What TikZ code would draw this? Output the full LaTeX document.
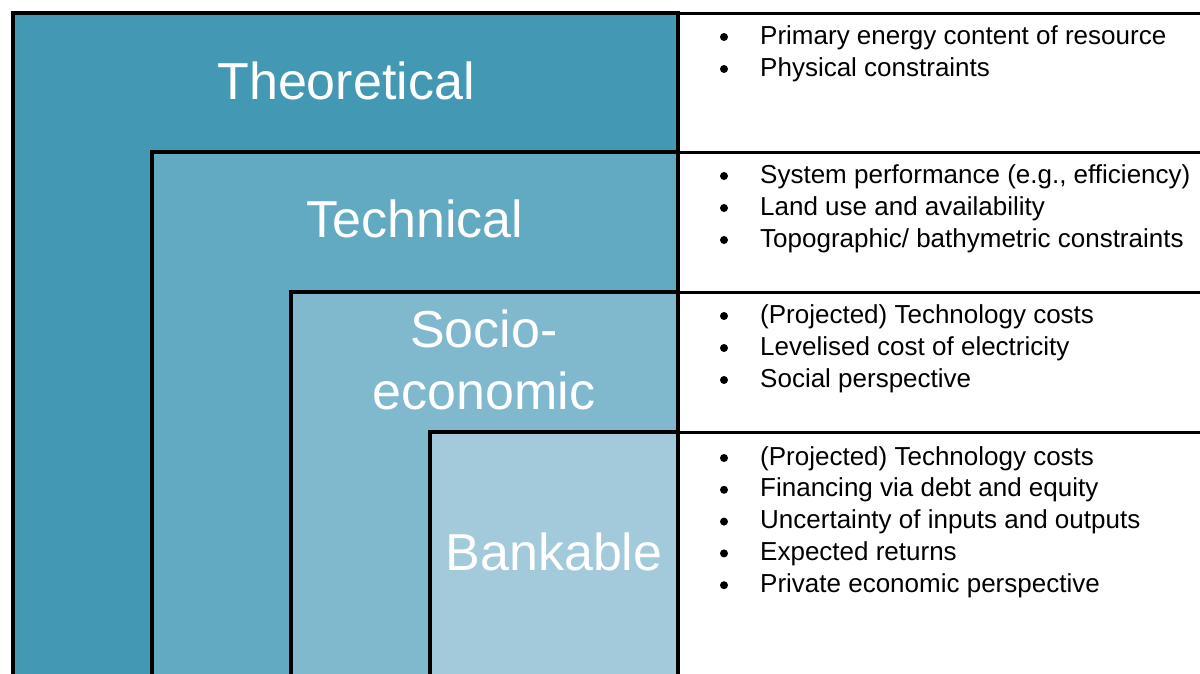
\documentclass[tikz,border=0pt]{standalone}
\usepackage{fontspec}
\setmainfont{Liberation Sans}
\usetikzlibrary{positioning}
\definecolor{theoCol}{HTML}{4399B3}
\definecolor{techCol}{HTML}{61AAC2}
\definecolor{socioCol}{HTML}{80B8CD}
\definecolor{bankCol}{HTML}{A2CADB}
\tikzset{
  Stufe/.style={fill=#1,draw=black,line width=4pt}, % nested boxes
  Trenner/.style={draw=black,line width=3pt},       % lines on the right
  Titel/.style={white,anchor=base,font=\fontsize{52}{62}\selectfont},
  Punkt/.style={circle,fill=black,inner sep=0pt,minimum size=8pt},
  Eintrag/.style={anchor=base west,inner sep=0pt,font=\fontsize{26}{31}\selectfont}
}
\begin{document}
\begin{tikzpicture}[x=1pt,y=-1pt]
\useasboundingbox (0,0) rectangle (1200,673);
\clip (0,0) rectangle (1200,673);

% nested boxes
\path[Stufe=theoCol]  (13,13)   rectangle (678,700);
\path[Stufe=techCol]  (152,152) rectangle (678,700);
\path[Stufe=socioCol] (291,292) rectangle (678,700);
\path[Stufe=bankCol]  (430,432) rectangle (678,700);

% separators
\coordinate (r0) at (678,13);  \coordinate (e0) at (1200,13);
\coordinate (r1) at (678,152); \coordinate (e1) at (1200,152);
\coordinate (r2) at (678,292); \coordinate (e2) at (1200,292);
\coordinate (r3) at (678,432); \coordinate (e3) at (1200,432);
\draw[Trenner] (r0) -- (e0);
\draw[Trenner] (r1) -- (e1);
\draw[Trenner] (r2) -- (e2);
\draw[Trenner] (r3) -- (e3);

% titles
\node[Titel] (theo)   at (346,99)  {Theoretical};
\node[Titel] (tech)   at (415,237) {Technical};
\node[Titel] (socioA) at (484,347) {Socio-};
\node[Titel] (socioB) at (484,409) {economic};
\node[Titel] (bank)   at (554,570) {Bankable};

% lists
\foreach \txt [count=\i] in {Primary energy content of resource, Physical constraints}{
  \node[Punkt]   (pa\i) at (724,{37+32*(\i-1)}) {};
  \node[Eintrag] (ta\i) at (760,{44+32*(\i-1)}) {\txt};
}
\foreach \txt [count=\i] in {{System performance (e.g., efficiency)}, Land use and availability, Topographic/ bathymetric constraints}{
  \node[Punkt]   (pb\i) at (724,{176+32*(\i-1)}) {};
  \node[Eintrag] (tb\i) at (760,{183+32*(\i-1)}) {\txt};
}
\foreach \txt [count=\i] in {(Projected) Technology costs, Levelised cost of electricity, Social perspective}{
  \node[Punkt]   (pc\i) at (724,{316+32*(\i-1)}) {};
  \node[Eintrag] (tc\i) at (760,{323+32*(\i-1)}) {\txt};
}
\foreach \txt [count=\i] in {(Projected) Technology costs, Financing via debt and equity, Uncertainty of inputs and outputs, Expected returns, Private economic perspective}{
  \node[Punkt]   (pd\i) at (724,{458+31.8*(\i-1)}) {};
  \node[Eintrag] (td\i) at (760,{465+31.8*(\i-1)}) {\txt};
}
\end{tikzpicture}
\end{document}
